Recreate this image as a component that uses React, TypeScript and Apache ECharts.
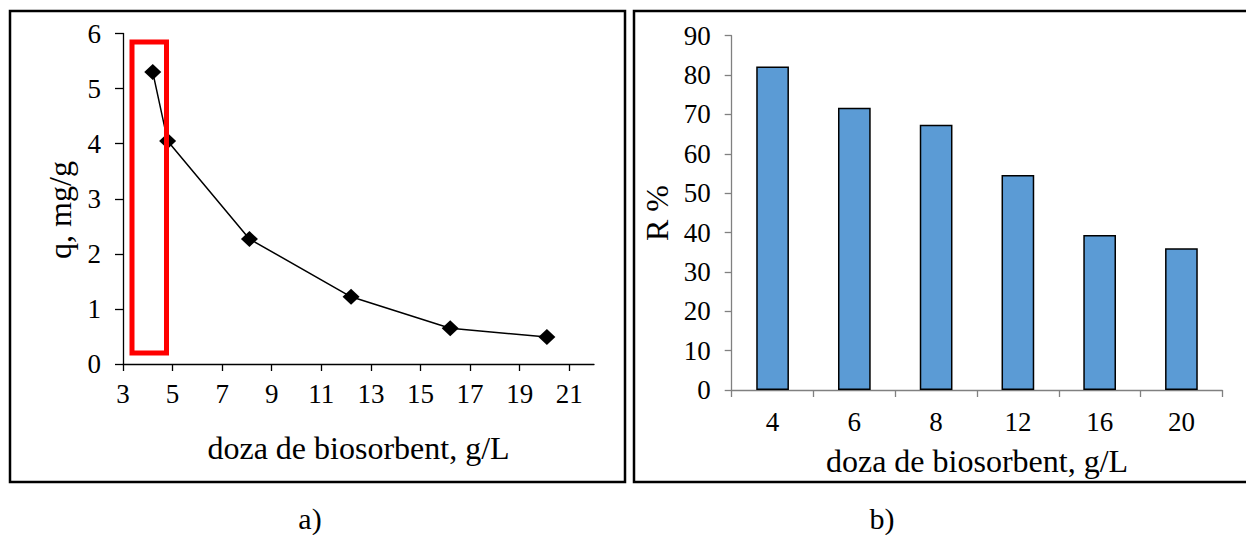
import React, { useEffect, useRef } from "react";
import * as echarts from "echarts";

const doseA = [4.2, 4.8, 8.1, 12.2, 16.2, 20.1];
const qValues = [5.3, 4.05, 2.27, 1.22, 0.65, 0.49];
const xTicksA = [3, 5, 7, 9, 11, 13, 15, 17, 19, 21];
const doseCategories = ["4", "6", "8", "12", "16", "20"];
const removal = [82.2, 71.7, 67.4, 54.6, 39.4, 36.0];

const FONT = "Liberation Serif, Times New Roman, serif";

export default function App() {
  const ref = useRef<HTMLDivElement>(null);
  useEffect(() => {
    if (!ref.current) return;
    const chart = echarts.init(ref.current, null, { renderer: "svg" });
    const labelStyle = { fontFamily: FONT, fontSize: 27, color: "#000" };
    const nameStyle = { fontFamily: FONT, fontSize: 32, color: "#000" };
    chart.setOption({
      animation: false,
      backgroundColor: "#fff",
      grid: [
        { left: 123, top: 33.5, width: 471, height: 330.5 },
        { left: 731.7, top: 35.7, width: 490.6, height: 354.3 },
      ],
      xAxis: [
        {
          type: "value",
          gridIndex: 0,
          min: 3,
          max: 22,
          interval: 2,
          splitLine: { show: false },
          axisLine: { lineStyle: { color: "#000", width: 1.3 } },
          axisTick: { show: true, length: 7, customValues: xTicksA, lineStyle: { color: "#000", width: 1.3 } },
          axisLabel: { ...labelStyle, margin: 16, customValues: xTicksA },
          name: "doza de biosorbent, g/L",
          nameLocation: "middle",
          nameGap: 68,
          nameTextStyle: nameStyle,
        },
        {
          type: "category",
          gridIndex: 1,
          data: doseCategories,
          axisLine: { lineStyle: { color: "#808080", width: 1.3 } },
          axisTick: { show: true, length: 7, lineStyle: { color: "#808080", width: 1.3 } },
          axisLabel: { ...labelStyle, margin: 18 },
          name: "doza de biosorbent, g/L",
          nameLocation: "middle",
          nameGap: 55,
          nameTextStyle: nameStyle,
        },
      ],
      yAxis: [
        {
          type: "value",
          gridIndex: 0,
          min: 0,
          max: 6,
          interval: 1,
          splitLine: { show: false },
          axisLine: { show: true, lineStyle: { color: "#000", width: 1.3 } },
          axisTick: { show: true, length: 8, lineStyle: { color: "#000", width: 1.3 } },
          axisLabel: { ...labelStyle, margin: 22 },
        },
        {
          type: "value",
          gridIndex: 1,
          min: 0,
          max: 90,
          interval: 10,
          splitLine: { show: false },
          axisLine: { show: true, lineStyle: { color: "#808080", width: 1.3 } },
          axisTick: { show: true, length: 7, lineStyle: { color: "#808080", width: 1.3 } },
          axisLabel: { ...labelStyle, margin: 21 },
        },
      ],
      series: [
        {
          type: "line",
          xAxisIndex: 0,
          yAxisIndex: 0,
          data: doseA.map((x, i) => [x, qValues[i]]),
          symbol: "diamond",
          symbolSize: [17, 16],
          lineStyle: { color: "#000", width: 1.5 },
          itemStyle: { color: "#000" },
        },
        {
          type: "bar",
          xAxisIndex: 1,
          yAxisIndex: 1,
          data: removal,
          barWidth: "40%",
          itemStyle: { color: "#5B9BD5", borderColor: "#000", borderWidth: 1.5 },
        },
      ],
      graphic: [
        { type: "rect", shape: { x: 10, y: 11, width: 615, height: 471 }, style: { fill: "none", stroke: "#000", lineWidth: 2.5 }, z: 10 },
        { type: "rect", shape: { x: 634, y: 11, width: 620, height: 471 }, style: { fill: "none", stroke: "#000", lineWidth: 2.5 }, z: 10 },
        { type: "rect", shape: { x: 132, y: 42, width: 34.5, height: 311 }, style: { fill: "none", stroke: "#ff0000", lineWidth: 5 }, z: 10 },
        { type: "text", x: 59.5, y: 210, rotation: Math.PI / 2, style: { text: "q, mg/g", font: `32px ${FONT}`, fill: "#000", textAlign: "center", textVerticalAlign: "middle" } },
        { type: "text", x: 657, y: 213, rotation: Math.PI / 2, style: { text: "R %", font: `32px ${FONT}`, fill: "#000", textAlign: "center", textVerticalAlign: "middle" } },
        { type: "text", x: 310, y: 518, style: { text: "a)", font: `30px ${FONT}`, fill: "#000", textAlign: "center", textVerticalAlign: "middle" } },
        { type: "text", x: 882, y: 518, style: { text: "b)", font: `30px ${FONT}`, fill: "#000", textAlign: "center", textVerticalAlign: "middle" } },
      ],
    });
    return () => chart.dispose();
  }, []);
  return <div ref={ref} style={{ position: "absolute", left: 0, top: 0, width: 1246, height: 535 }} />;
}
